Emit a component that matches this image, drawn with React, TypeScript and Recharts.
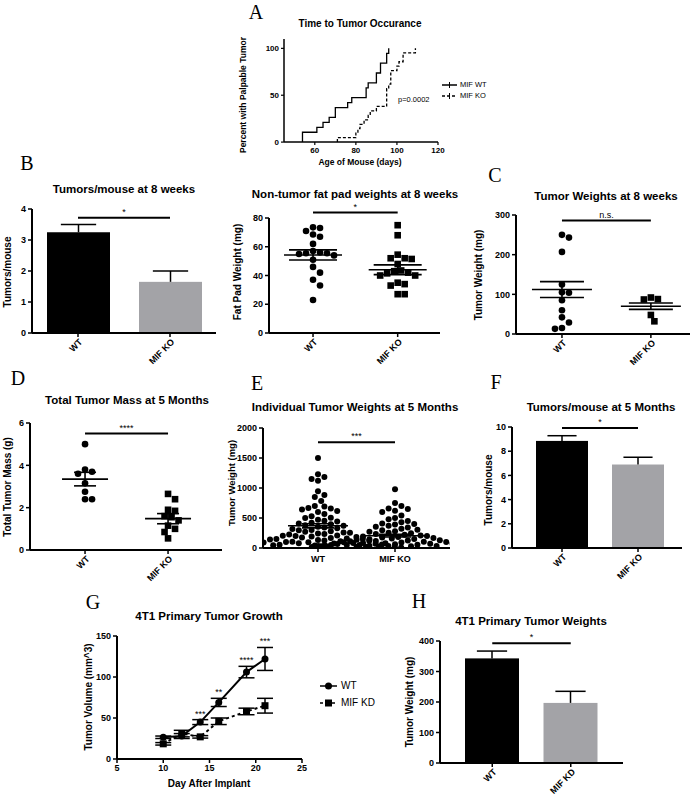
import React from "react";
import {
  LineChart, Line, BarChart, Bar, ScatterChart, Scatter,
  XAxis, YAxis, ReferenceLine, ErrorBar, LabelList,
} from "recharts";

const sans = '"Liberation Sans", Arial, sans-serif';
const serif = '"Liberation Serif", "Times New Roman", serif';
const GRAY = "#a3a3a7";

// A - time to tumor (Kaplan-Meier style, % with palpable tumor)
const kmDaysWT = [54, 54, 61, 64, 67, 70, 76, 78, 85, 86, 90, 92, 95, 96];
const kmPctWT = [0, 10.5, 15.8, 21.1, 26.3, 36.8, 42.1, 47.4, 57.9, 63.2, 73.7, 84.2, 94.7, 100];
const kmDaysKO = [71, 71, 80, 81, 82, 84, 86, 87, 90, 95, 96, 97, 100, 101, 103, 109];
const kmPctKO = [0, 4.8, 9.5, 14.3, 19, 23.8, 28.6, 33.3, 38.1, 57.1, 61.9, 76.2, 81, 85.7, 95.2, 100];

const groupsKO = ["WT", "MIF KO"];
const groupsKD = ["WT", "MIF KD"];

// B
const tumorsPerMouse8w = [3.25, 1.65];
const tumorsPerMouse8wSem = [0.25, 0.35];
const fatPadWT = [73.5, 73, 71, 68.5, 67, 62, 57, 56, 55.5, 55.5, 55, 54, 51, 46, 42, 37, 33, 23];
const fatPadKO = [75, 68, 54.5, 52, 52, 51.5, 48, 43.5, 43, 42, 41.5, 40, 40, 35, 34, 33, 27, 27];
const fatPadMean = [54.3, 44];
const fatPadSem = [3.5, 3.4];

// C
const tumorWt8wWT = [250, 243, 207, 125, 105, 104, 85, 60, 42, 29, 15, 13];
const tumorWt8wKO = [92, 88, 87, 48, 32];
const tumorWt8wMean = [112, 70];
const tumorWt8wSem = [20, 8];

// D
const totalMassWT = [5.0, 3.8, 3.7, 3.6, 3.15, 2.75, 2.4, 2.4];
const totalMassKO = [2.65, 2.4, 1.9, 1.85, 1.6, 1.55, 1.4, 1.15, 1.0, 0.85, 0.55];
const totalMassMean = [3.35, 1.48];
const totalMassSem = [0.32, 0.24];

// E
const indivWT = [1500, 1230, 1185, 1150, 1120, 945, 885, 850, 785, 700, 690, 665, 660, 640, 615, 600,
  565, 530, 505, 500, 470, 455, 440, 420, 410, 395, 380, 372, 355, 340, 330, 318, 300, 295, 280, 272,
  260, 255, 240, 232, 225, 210, 205, 198, 190, 182, 175, 168, 160, 152, 148, 140, 133, 125, 120, 112,
  105, 100, 96, 90, 84, 80, 74, 70, 66, 60, 55, 52, 48, 44, 40, 36, 33, 30, 26, 22, 18, 15, 12, 10];
const indivKO = [980, 750, 700, 660, 650, 620, 600, 540, 500, 480, 450, 430, 410, 400, 390, 370, 355,
  340, 320, 305, 295, 280, 270, 255, 245, 232, 220, 210, 200, 192, 185, 176, 168, 160, 152, 145, 138,
  130, 124, 118, 112, 105, 100, 95, 90, 85, 80, 76, 72, 68, 64, 60, 56, 52, 48, 45, 42, 38, 35, 32,
  28, 25, 22, 18, 15, 12];
const indivMean = [370, 205];
const indivSem = [35, 22];

// F
const tumorsPerMouse5m = [8.85, 6.9];
const tumorsPerMouse5mSem = [0.43, 0.6];

// G
const growthDays = [10, 12, 14, 16, 19, 21];
const growthWT = [26.5, 28, 45, 69, 106, 122];
const growthWTErr = [1.5, 3, 3, 5, 7, 14];
const growthKD = [18.5, 31, 27, 46, 58, 65];
const growthKDErr = [1.5, 4, 1.5, 4, 4, 9];
const growthSig = ["", "", "***", "**", "****", "***"];

// H
const tumorWeight4T1 = [343, 197];
const tumorWeight4T1Sem = [24, 38];

type Box = { x0: number; x1: number; y0: number; y1: number };
const YW = 32;
const TOP = 22;
const RIGHT = 8;

function frame(b: Box, xh: number) {
  const left = b.x0 - YW;
  const top = b.y0 - TOP;
  return {
    style: { position: "absolute" as const, left, top },
    width: b.x1 - left + RIGHT,
    height: b.y1 - top + xh,
    margin: { top: TOP, right: RIGHT, bottom: 0, left: 0 },
  };
}

const axisProps = {
  axisLine: { stroke: "#000", strokeWidth: 2 },
  tickLine: { stroke: "#000", strokeWidth: 1.5 },
  tickSize: 4,
};
const tickStyle = { fill: "#000", fontSize: 9, fontWeight: 700, fontFamily: sans };

// simple beeswarm: spread points sideways so they don't overlap
function swarm(values: number[], center: number, pxX: number, pxY: number, d: number) {
  const placed: { px: number; py: number }[] = [];
  const order = values.map((_, i) => i).sort((a, b) => values[b] - values[a]);
  const out: { x: number; y: number }[] = [];
  const step = d * 0.5;
  for (const i of order) {
    const py = values[i] * pxY;
    let px = 0;
    for (let k = 0; k < 600; k++) {
      const cand = k === 0 ? 0 : (k % 2 ? 1 : -1) * Math.ceil(k / 2) * step;
      const hit = placed.some((p) => (p.px - cand) ** 2 + (p.py - py) ** 2 < d * d);
      if (!hit) { px = cand; break; }
    }
    placed.push({ px, py });
    out.push({ x: center + px / pxX, y: values[i] });
  }
  return out;
}

const SlantTick = (p: any) => {
  const { x, y, payload, labels } = p;
  const label = labels ? labels[payload.value - 1] : payload.value;
  const ax = x + 5;
  const ay = y + 3.5;
  return (
    <text x={ax} y={ay} textAnchor="end" transform={`rotate(-45 ${ax} ${ay})`}
      fontSize={9} fontWeight={700} fontFamily={sans} fill="#000">{label}</text>
  );
};

const FlatTick = (p: any) => {
  const { x, y, payload, labels } = p;
  return (
    <text x={x} y={y + 8} textAnchor="middle" fontSize={9} fontWeight={700} fontFamily={sans} fill="#000">
      {labels[payload.value - 1]}
    </text>
  );
};

const BarWithSem = (p: any) => {
  const { x, y, width, height, payload } = p;
  const k = height / payload.value;
  const top = y - payload.sem * k;
  const cx = x + width / 2;
  const cap = width * 0.28;
  return (
    <g>
      <rect x={x} y={y} width={width} height={height} fill={payload.group === "WT" ? "#000" : GRAY} />
      <line x1={cx} x2={cx} y1={y} y2={top} stroke="#000" strokeWidth={1.5} />
      <line x1={cx - cap} x2={cx + cap} y1={top} y2={top} stroke="#000" strokeWidth={1.5} />
    </g>
  );
};

function sigLine(a: any, b: any, y: number, text: string) {
  return (
    <ReferenceLine segment={[{ x: a, y }, { x: b, y }]} stroke="#000" strokeWidth={2} ifOverflow="visible"
      label={{ value: text, position: "top", fill: "#000", fontSize: 9, fontFamily: sans, offset: 3 }} />
  );
}

function BarPanel(props: {
  box: Box; groups: string[]; values: number[]; sems: number[]; domY: number[]; ticksY: number[];
  padL: number; padR: number; barSize: number; sigY: number; sig: string;
}) {
  const { box, groups, values, sems, domY, ticksY, padL, padR, barSize, sigY, sig } = props;
  const data = groups.map((g, i) => ({ group: g, value: values[i], sem: sems[i] }));
  const f = frame(box, 50);
  return (
    <div style={f.style}>
      <BarChart width={f.width} height={f.height} margin={f.margin} data={data}>
        <XAxis dataKey="group" type="category" padding={{ left: padL, right: padR }} height={50}
          interval={0} tick={(p: any) => <SlantTick {...p} />} {...axisProps} />
        <YAxis type="number" domain={domY} ticks={ticksY} width={YW} tick={tickStyle} allowDataOverflow {...axisProps} />
        <Bar dataKey="value" barSize={barSize} shape={BarWithSem} isAnimationActive={false} />
        {sigLine(groups[0], groups[1], sigY, sig)}
      </BarChart>
    </div>
  );
}

function DotPanel(props: {
  box: Box; domX: number[]; domY: number[]; ticksY: number[]; wt: number[]; ko: number[];
  mean: number[]; sem: number[]; koSquare: boolean; r: number; meanHalf: number; semHalf: number;
  sigY: number; sig: string; slant: boolean;
}) {
  const { box, domX, domY, ticksY, wt, ko, mean, sem, koSquare, r, meanHalf, semHalf, sigY, sig, slant } = props;
  const pxX = (box.x1 - box.x0) / (domX[1] - domX[0]);
  const pxY = (box.y1 - box.y0) / (domY[1] - domY[0]);
  const d = r * 2 + 0.4;
  const ptsWT = swarm(wt, 1, pxX, pxY, d);
  const ptsKO = swarm(ko, 2, pxX, pxY, d);
  const f = frame(box, slant ? 50 : 22);
  const mh = meanHalf / pxX;
  const sh = semHalf / pxX;
  const circle = (p: any) => <circle cx={p.cx} cy={p.cy} r={r} fill="#000" />;
  const square = (p: any) => <rect x={p.cx - r} y={p.cy - r} width={r * 2} height={r * 2} fill="#000" />;
  const ls = { stroke: "#000", strokeWidth: 1.6, ifOverflow: "visible" as const };
  return (
    <div style={f.style}>
      <ScatterChart width={f.width} height={f.height} margin={f.margin}>
        <XAxis type="number" dataKey="x" domain={domX} ticks={[1, 2]} allowDataOverflow height={slant ? 50 : 22}
          tick={(p: any) => (slant ? <SlantTick {...p} labels={groupsKO} /> : <FlatTick {...p} labels={groupsKO} />)}
          {...axisProps} />
        <YAxis type="number" dataKey="y" domain={domY} ticks={ticksY} width={YW} tick={tickStyle} allowDataOverflow {...axisProps} />
        <Scatter data={ptsWT} shape={circle} isAnimationActive={false} />
        <Scatter data={ptsKO} shape={koSquare ? square : circle} isAnimationActive={false} />
        {[0, 1].map((i) => (
          <React.Fragment key={i}>
            <ReferenceLine segment={[{ x: i + 1 - mh, y: mean[i] }, { x: i + 1 + mh, y: mean[i] }]} {...ls} />
            <ReferenceLine segment={[{ x: i + 1 - sh, y: mean[i] + sem[i] }, { x: i + 1 + sh, y: mean[i] + sem[i] }]} {...ls} />
            <ReferenceLine segment={[{ x: i + 1 - sh, y: mean[i] - sem[i] }, { x: i + 1 + sh, y: mean[i] - sem[i] }]} {...ls} />
            <ReferenceLine segment={[{ x: i + 1, y: mean[i] - sem[i] }, { x: i + 1, y: mean[i] + sem[i] }]} {...ls} />
          </React.Fragment>
        ))}
        {sigLine(1, 2, sigY, sig)}
      </ScatterChart>
    </div>
  );
}

function KmPanel() {
  const box: Box = { x0: 284, x1: 438, y0: 38.6, y1: 141.7 };
  const f = frame(box, 20);
  const kmWT = kmDaysWT.map((d, i) => ({ day: d, pct: kmPctWT[i] }));
  const kmKO = kmDaysKO.map((d, i) => ({ day: d, pct: kmPctKO[i] }));
  const ax = { axisLine: { stroke: "#000", strokeWidth: 1.5 }, tickLine: { stroke: "#000", strokeWidth: 1.2 }, tickSize: 3 };
  const ts = { fill: "#000", fontSize: 8, fontWeight: 700, fontFamily: sans };
  return (
    <div style={f.style}>
      <LineChart width={f.width} height={f.height} margin={f.margin}>
        <XAxis type="number" dataKey="day" domain={[45, 120]} ticks={[60, 80, 100, 120]} allowDataOverflow height={20} tick={ts} {...ax} />
        <YAxis type="number" domain={[0, 110]} ticks={[0, 50, 100]} width={YW} allowDataOverflow tick={ts} {...ax} />
        <Line data={kmWT} dataKey="pct" type="stepAfter" dot={false} stroke="#000" strokeWidth={1.3} isAnimationActive={false} />
        <Line data={kmKO} dataKey="pct" type="stepAfter" dot={false} stroke="#000" strokeWidth={1.3} strokeDasharray="3 2" isAnimationActive={false} />
      </LineChart>
    </div>
  );
}

function GrowthPanel() {
  const box: Box = { x0: 117, x1: 302, y0: 636, y1: 759 };
  const f = frame(box, 22);
  const pxY = (box.y1 - box.y0) / 150;
  const data = growthDays.map((d, i) => ({
    day: d, wt: growthWT[i], wtErr: growthWTErr[i], kd: growthKD[i], kdErr: growthKDErr[i], sig: growthSig[i],
  }));
  const StarLabel = (p: any) => {
    const { x, y, value, index } = p;
    if (!value) return null;
    const top = y - growthWTErr[index] * pxY - 3;
    return <text x={x} y={top} textAnchor="middle" fontSize={9} fontFamily={sans} fill="#000">{value}</text>;
  };
  return (
    <div style={f.style}>
      <LineChart width={f.width} height={f.height} margin={f.margin} data={data}>
        <XAxis type="number" dataKey="day" domain={[5, 25]} ticks={[5, 10, 15, 20, 25]} height={22} tick={tickStyle} {...axisProps} />
        <YAxis type="number" domain={[0, 150]} ticks={[0, 50, 100, 150]} width={YW} tick={tickStyle} {...axisProps} />
        <Line dataKey="kd" stroke="#000" strokeWidth={2} strokeDasharray="3 3" isAnimationActive={false}
          dot={(p: any) => <rect key={`k${p.index}`} x={p.cx - 3.5} y={p.cy - 3.5} width={7} height={7} fill="#000" />}>
          <ErrorBar dataKey="kdErr" width={8} stroke="#000" strokeWidth={1.5} direction="y" />
        </Line>
        <Line dataKey="wt" stroke="#000" strokeWidth={2} isAnimationActive={false}
          dot={(p: any) => <circle key={`w${p.index}`} cx={p.cx} cy={p.cy} r={3.5} fill="#000" />}>
          <ErrorBar dataKey="wtErr" width={8} stroke="#000" strokeWidth={1.5} direction="y" />
          <LabelList dataKey="sig" content={StarLabel} />
        </Line>
      </LineChart>
    </div>
  );
}

const T = (p: { x: number; y: number; s: number; w?: number; r?: number; f?: string; left?: boolean; children: any }) => (
  <div style={{
    position: "absolute", left: p.x, top: p.y,
    transform: `translate(${p.left ? "0" : "-50%"},-50%) rotate(${p.r || 0}deg)`,
    fontSize: p.s, fontWeight: p.w ?? 700, fontFamily: p.f || sans, whiteSpace: "nowrap", lineHeight: 1, color: "#000",
  }}>{p.children}</div>
);

function LegendKey({ x, y, w, dash, marker }: any) {
  return (
    <svg style={{ position: "absolute", left: x, top: y - 5 }} width={w} height={10}>
      <line x1={0} x2={w} y1={5} y2={5} stroke="#000" strokeWidth={1.5} strokeDasharray={dash} />
      {marker === "tick" && <line x1={w / 2} x2={w / 2} y1={2} y2={8} stroke="#000" strokeWidth={1} />}
      {marker === "circle" && <circle cx={w / 2} cy={5} r={3.5} fill="#000" />}
      {marker === "square" && <rect x={w / 2 - 3.5} y={1.5} width={7} height={7} fill="#000" />}
    </svg>
  );
}

export default function App() {
  return (
    <div style={{ position: "absolute", left: 0, top: 0, width: 696, height: 799, background: "#fff", overflow: "hidden" }}>
      <KmPanel />
      <BarPanel box={{ x0: 32, x1: 216, y0: 209, y1: 333 }} groups={groupsKO} values={tumorsPerMouse8w}
        sems={tumorsPerMouse8wSem} domY={[0, 4]} ticksY={[0, 1, 2, 3, 4]} padL={0} padR={0} barSize={63} sigY={3.72} sig="*" />
      <DotPanel box={{ x0: 269, x1: 440, y0: 218, y1: 333 }} domX={[0.48, 2.5]} domY={[0, 80]} ticksY={[0, 20, 40, 60, 80]}
        wt={fatPadWT} ko={fatPadKO} mean={fatPadMean} sem={fatPadSem} koSquare r={3.3} meanHalf={29} semHalf={24}
        sigY={83.8} sig="*" slant />
      <DotPanel box={{ x0: 516, x1: 690, y0: 215, y1: 334 }} domX={[0.483, 2.44]} domY={[0, 300]} ticksY={[0, 100, 200, 300]}
        wt={tumorWt8wWT} ko={tumorWt8wKO} mean={tumorWt8wMean} sem={tumorWt8wSem} koSquare r={3.3} meanHalf={30} semHalf={22}
        sigY={286} sig="n.s." slant />
      <DotPanel box={{ x0: 30, x1: 222, y0: 423, y1: 550 }} domX={[0.337, 2.65]} domY={[0, 6]} ticksY={[0, 2, 4, 6]}
        wt={totalMassWT} ko={totalMassKO} mean={totalMassMean} sem={totalMassSem} koSquare r={3.3} meanHalf={23} semHalf={11}
        sigY={5.5} sig="****" slant />
      <DotPanel box={{ x0: 263, x1: 450, y0: 428, y1: 548 }} domX={[0.286, 2.714]} domY={[0, 2000]} ticksY={[0, 500, 1000, 1500, 2000]}
        wt={indivWT} ko={indivKO} mean={indivMean} sem={indivSem} koSquare={false} r={3} meanHalf={30} semHalf={16}
        sigY={1762} sig="***" slant={false} />
      <BarPanel box={{ x0: 512, x1: 682, y0: 427, y1: 548 }} groups={groupsKO} values={tumorsPerMouse5m}
        sems={tumorsPerMouse5mSem} domY={[0, 10]} ticksY={[0, 2, 4, 6, 8, 10]} padL={12} padR={6} barSize={52} sigY={9.92} sig="*" />
      <GrowthPanel />
      <BarPanel box={{ x0: 440, x1: 623, y0: 641, y1: 763 }} groups={groupsKD} values={tumorWeight4T1}
        sems={tumorWeight4T1Sem} domY={[0, 400]} ticksY={[0, 100, 200, 300, 400]} padL={13} padR={13} barSize={54} sigY={393} sig="*" />

      {/* panel letters */}
      <T x={256} y={12} s={20} w={400} f={serif}>A</T>
      <T x={27} y={163} s={20} w={400} f={serif}>B</T>
      <T x={495} y={175} s={20} w={400} f={serif}>C</T>
      <T x={18} y={378} s={20} w={400} f={serif}>D</T>
      <T x={257} y={383} s={20} w={400} f={serif}>E</T>
      <T x={496} y={382} s={20} w={400} f={serif}>F</T>
      <T x={93} y={602} s={20} w={400} f={serif}>G</T>
      <T x={419} y={601} s={20} w={400} f={serif}>H</T>

      {/* titles */}
      <T x={360} y={24} s={10}>Time to Tumor Occurance</T>
      <T x={124} y={190} s={11.5}>Tumors/mouse at 8 weeks</T>
      <T x={355} y={195} s={11.5}>Non-tumor fat pad weights at 8 weeks</T>
      <T x={606} y={197} s={11.5}>Tumor Weights at 8 weeks</T>
      <T x={127} y={401} s={11.5}>Total Tumor Mass at 5 Months</T>
      <T x={355} y={408} s={11.5}>Individual Tumor Weights at 5 Months</T>
      <T x={601} y={408} s={11.5}>Tumors/mouse at 5 Months</T>
      <T x={209} y={617} s={11.5}>4T1 Primary Tumor Growth</T>
      <T x={531} y={622} s={11.5}>4T1 Primary Tumor Weights</T>

      {/* axis labels */}
      <T x={243} y={95} s={8.5} r={-90}>Percent with Palpable Tumor</T>
      <T x={360} y={162} s={8.5}>Age of Mouse (days)</T>
      <T x={8} y={272} s={10} r={-90}>Tumors/mouse</T>
      <T x={238} y={272} s={10} r={-90}>Fat Pad Weight (mg)</T>
      <T x={479} y={275} s={10} r={-90}>Tumor Weight (mg)</T>
      <T x={8} y={487} s={10} r={-90}>Total Tumor Mass (g)</T>
      <T x={232} y={483} s={9.5} r={-90}>Tumor Weight (mg)</T>
      <T x={489} y={490} s={10} r={-90}>Tumors/mouse</T>
      <T x={89} y={697} s={10} r={-90}>Tumor Volume (mm^3)</T>
      <T x={209} y={784} s={10}>Day After Implant</T>
      <T x={410} y={702} s={10} r={-90}>Tumor Weight (mg)</T>

      {/* legends */}
      <LegendKey x={442} y={84.5} w={15} marker="tick" />
      <LegendKey x={442} y={96} w={15} dash="3 2" marker="tick" />
      <T x={460} y={84.5} s={7.5} w={400} left>MIF WT</T>
      <T x={460} y={96} s={7.5} w={400} left>MIF KO</T>
      <T x={398} y={100} s={7.5} w={400} left>p=0.0002</T>

      <LegendKey x={320} y={686} w={17} marker="circle" />
      <LegendKey x={320} y={703} w={17} dash="3 3" marker="square" />
      <T x={341} y={686} s={10} w={400} left>WT</T>
      <T x={341} y={703} s={10} w={400} left>MIF KD</T>
    </div>
  );
}
